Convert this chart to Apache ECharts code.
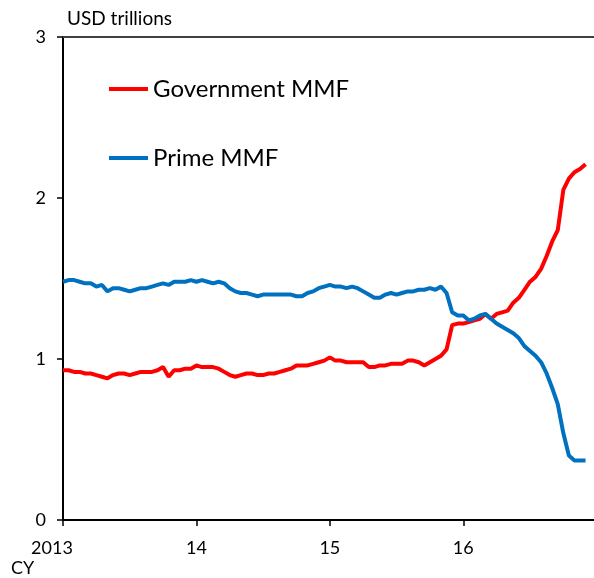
<!DOCTYPE html>
<html><head><meta charset="utf-8">
<script src="https://cdn.jsdelivr.net/npm/echarts@6/dist/echarts.min.js"></script>
<style>html,body{margin:0;padding:0;background:#fff}#c{width:594px;height:578px}</style>
</head><body><div id="c"></div>
<script>
// Semi-monthly observations, Jan 2013 to late Nov 2016 (decimal year positions)
const periodsPerYear = 24;
const startYear = 2013;
const nPoints = 95;
const xYears = Array.from({length: nPoints}, (_, i) => startYear + i / periodsPerYear);

const primeMMF = [
  1.48,1.49,1.49,1.48,1.47,1.47,1.45,1.46,1.42,1.44,1.44,1.43,1.42,1.43,1.44,1.44,1.45,1.46,1.47,1.46,
  1.48,1.48,1.48,1.49,1.48,1.49,1.48,1.47,1.48,1.47,1.44,1.42,1.41,1.41,1.40,1.39,1.40,1.40,1.40,1.40,
  1.40,1.40,1.39,1.39,1.41,1.42,1.44,1.45,1.46,1.45,1.45,1.44,1.45,1.44,1.42,1.40,1.38,1.38,1.40,1.41,
  1.40,1.41,1.42,1.42,1.43,1.43,1.44,1.43,1.45,1.41,1.29,1.27,1.27,1.24,1.25,1.27,1.28,1.25,1.22,1.20,
  1.18,1.16,1.13,1.08,1.05,1.02,0.98,0.91,0.82,0.72,0.54,0.40,0.37,0.37,0.37
];
const governmentMMF = [
  0.93,0.93,0.92,0.92,0.91,0.91,0.90,0.89,0.88,0.90,0.91,0.91,0.90,0.91,0.92,0.92,0.92,0.93,0.95,0.89,
  0.93,0.93,0.94,0.94,0.96,0.95,0.95,0.95,0.94,0.92,0.90,0.89,0.90,0.91,0.91,0.90,0.90,0.91,0.91,0.92,
  0.93,0.94,0.96,0.96,0.96,0.97,0.98,0.99,1.01,0.99,0.99,0.98,0.98,0.98,0.98,0.95,0.95,0.96,0.96,0.97,
  0.97,0.97,0.99,0.99,0.98,0.96,0.98,1.00,1.02,1.06,1.21,1.22,1.22,1.23,1.24,1.25,1.28,1.25,1.28,1.29,
  1.30,1.35,1.38,1.43,1.48,1.51,1.56,1.64,1.73,1.80,2.05,2.12,2.16,2.18,2.21
];
const xTickLabels = {2013: '2013', 2014: '14', 2015: '15', 2016: '16'};
const yTicks = [0, 1, 2, 3];

const FONT = 'Lato';
const chart = echarts.init(document.getElementById('c'), null, {renderer: 'canvas'});
chart.setOption({
  animation: false,
  backgroundColor: '#ffffff',
  textStyle: {fontFamily: FONT},
  grid: {left: 63, right: 0, top: 37, bottom: 58, containLabel: false},
  legend: {
    orient: 'vertical', left: 104, top: 70, itemWidth: 39, itemHeight: 4, itemGap: 41,
    icon: 'rect',
    textStyle: {fontFamily: FONT, fontSize: 24, color: '#000', lineHeight: 28},
    data: ['Government MMF', 'Prime MMF']
  },
  xAxis: [{
    type: 'value', min: 2013, max: 2016.98, interval: 1,
    axisLine: {show: true, onZero: false, lineStyle: {color: '#000', width: 2}},
    axisTick: {show: true, inside: false, length: 6, lineStyle: {color: '#000', width: 1.5}},
    splitLine: {show: false},
    axisLabel: {
      margin: 19, fontSize: 18, color: '#000', fontFamily: FONT, showMaxLabel: false,
      formatter: v => v === 2013 ? '{a|2013}' : (xTickLabels[v] || ''),
      rich: {a: {fontSize: 18, fontFamily: FONT, color: '#000', padding: [0, 22, 0, 0]}}
    }
  }, {
    type: 'value', position: 'top', min: 2013, max: 2016.98,
    axisLine: {show: true, onZero: false, lineStyle: {color: '#404040', width: 2}},
    axisTick: {show: false}, axisLabel: {show: false}, splitLine: {show: false}
  }],
  yAxis: {
    type: 'value', min: 0, max: 3, interval: 1,
    axisLine: {show: true, lineStyle: {color: '#000', width: 2}},
    axisTick: {show: true, inside: false, length: 6, lineStyle: {color: '#000', width: 1.5}},
    splitLine: {show: false},
    axisLabel: {margin: 17, fontSize: 18, color: '#000', fontFamily: FONT,
      formatter: v => yTicks.includes(v) ? String(v) : ''}
  },
  graphic: [
    {type: 'text', left: 67, top: 9, style: {text: 'USD trillions', fontSize: 19, fontFamily: FONT, fill: '#000'}},
    {type: 'text', left: 11, top: 559, style: {text: 'CY', fontSize: 18, fontFamily: FONT, fill: '#000'}}
  ],
  series: [
    {name: 'Government MMF', type: 'line', showSymbol: false, symbol: 'none',
      color: '#ff0000', lineStyle: {color: '#ff0000', width: 4},
      data: xYears.map((x, i) => [x, governmentMMF[i]])},
    {name: 'Prime MMF', type: 'line', showSymbol: false, symbol: 'none',
      color: '#0070c0', lineStyle: {color: '#0070c0', width: 4},
      data: xYears.map((x, i) => [x, primeMMF[i]])}
  ]
});
</script>
</body></html>
